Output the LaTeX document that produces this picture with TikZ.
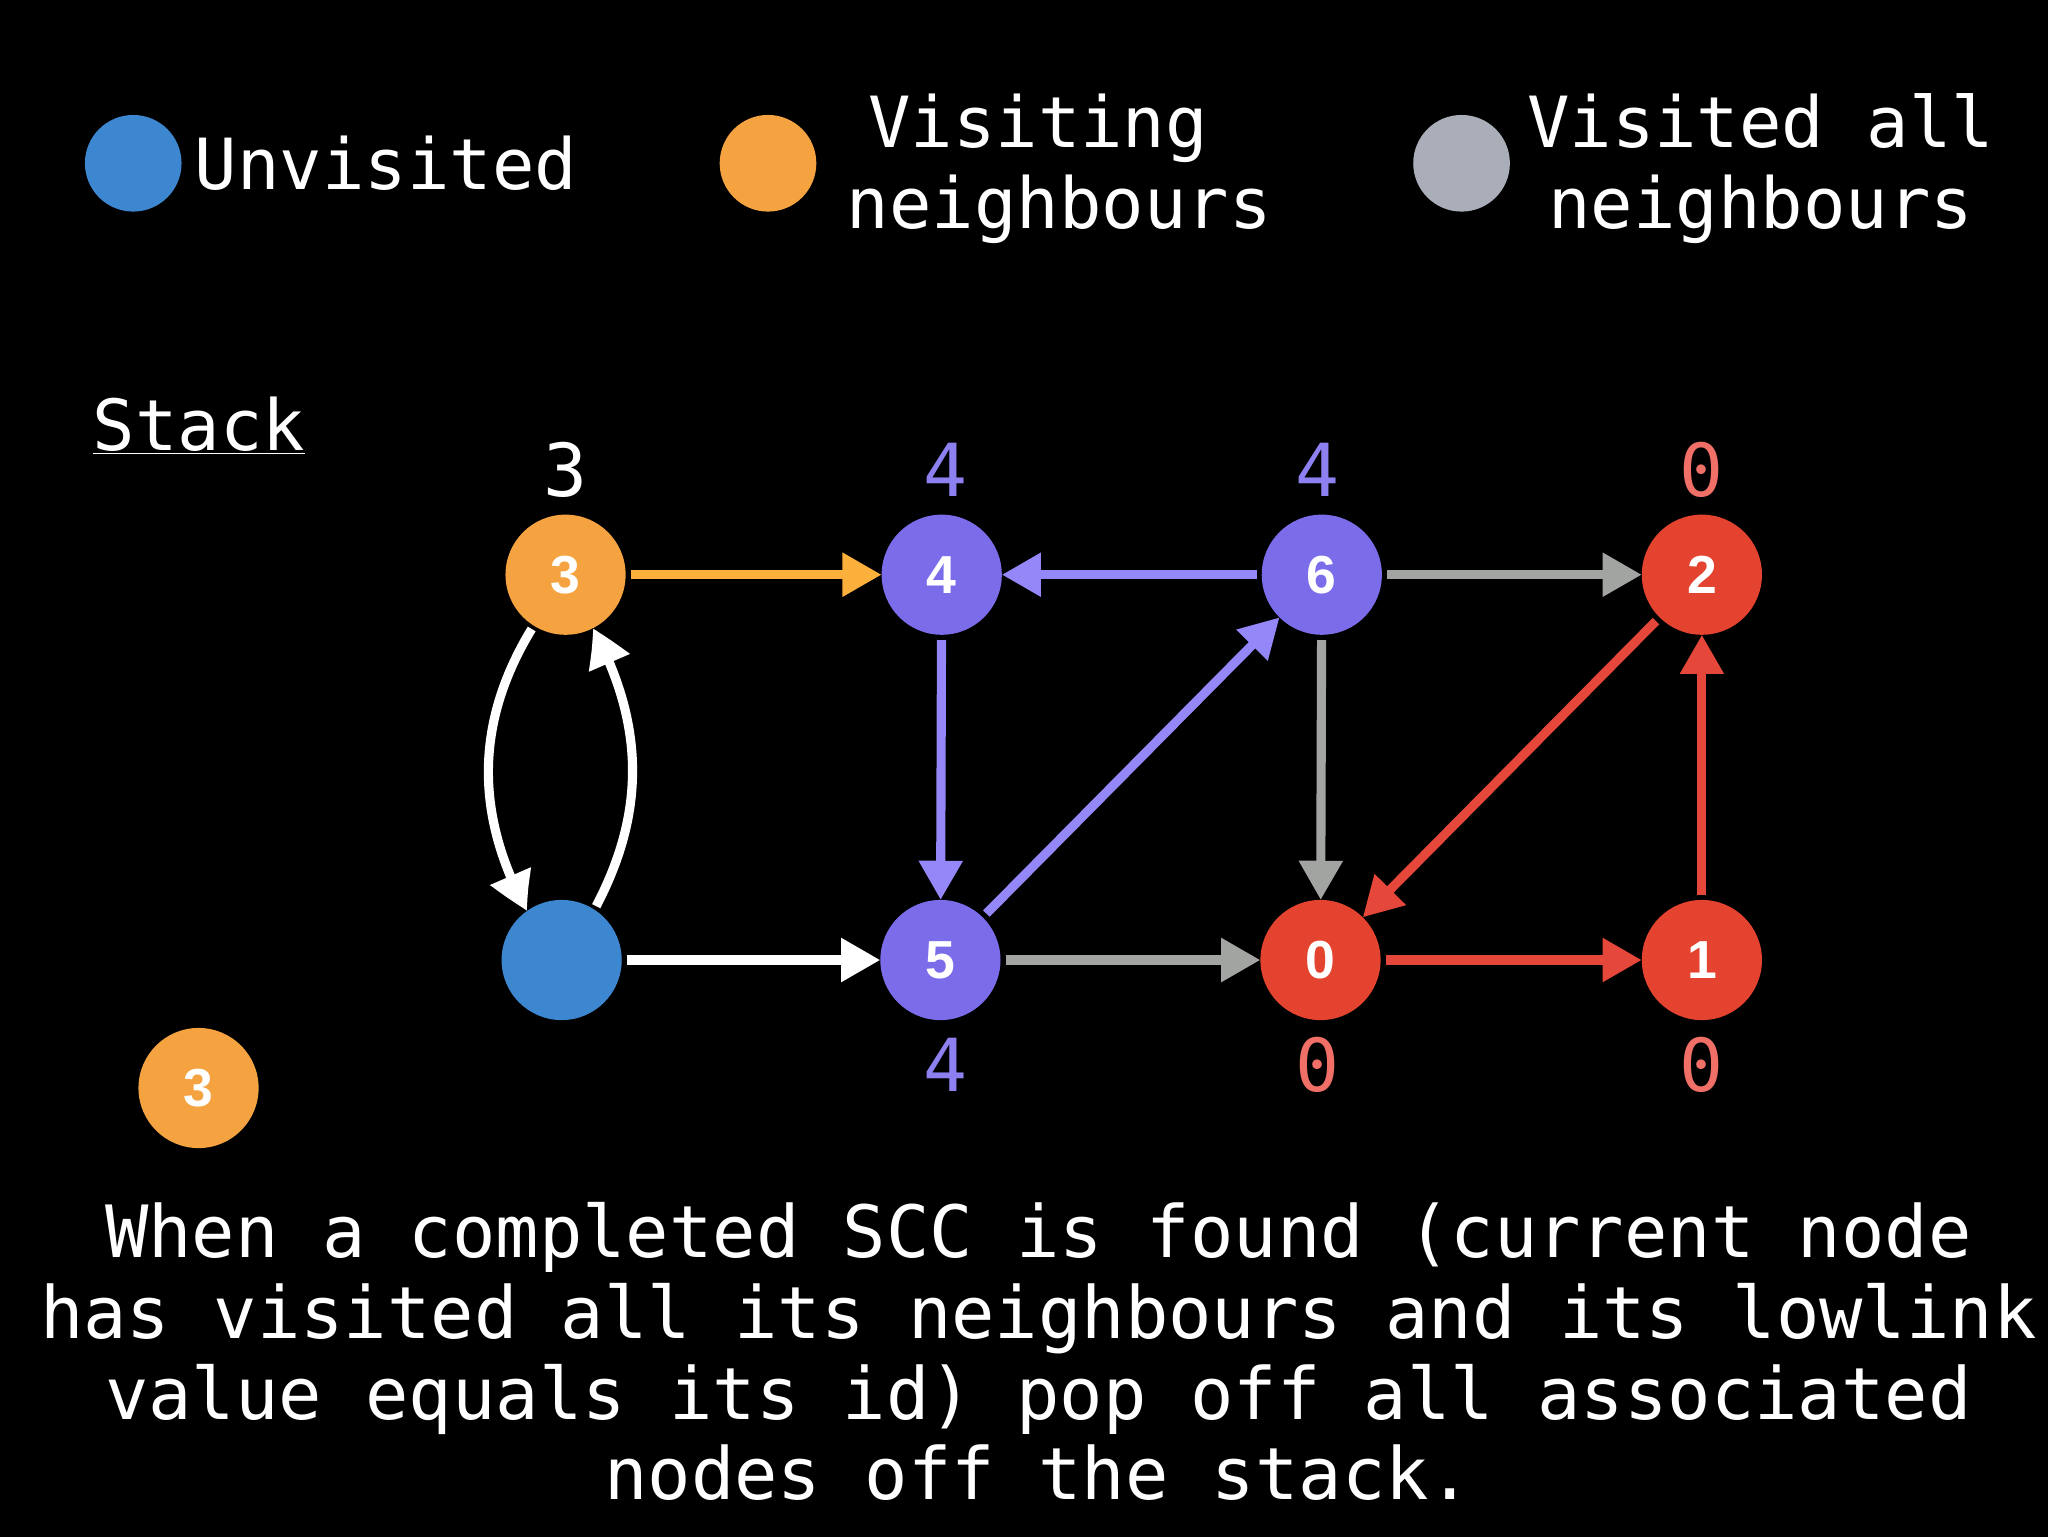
\documentclass[tikz,border=0pt]{standalone}
\usepackage{fontspec}
\setmainfont{DejaVu Sans Mono}
\newfontfamily\numfont{Liberation Sans}
\usetikzlibrary{arrows.meta,bending}
\definecolor{blueC}{HTML}{3D86D0}
\definecolor{orangeC}{HTML}{F4A340}
\definecolor{grayC}{HTML}{A9AEB9}
\definecolor{purpleN}{HTML}{7B6CE9}
\definecolor{purpleA}{HTML}{9487F8}
\definecolor{purpleL}{HTML}{8D80F0}
\definecolor{redN}{HTML}{E4432F}
\definecolor{redA}{HTML}{E5483A}
\definecolor{salmonL}{HTML}{F07068}
\definecolor{grayA}{HTML}{A2A4A2}
\definecolor{yellowA}{HTML}{FBB03B}
\tikzset{
  gnode/.style={circle,minimum size=92pt,inner sep=0pt,outer sep=0pt,text=white,font=\numfont\bfseries\fontsize{41}{43}\selectfont},
  legdot/.style={circle,minimum size=74pt,inner sep=0pt,outer sep=0pt},
  txt/.style={text=white,inner sep=0pt,font=\fontsize{54}{63}\selectfont},
  btxt/.style={text=white,inner sep=0pt,font=\fontsize{55.2}{63}\selectfont},
  numlab/.style={inner sep=0pt,font=\fontsize{56}{60}\selectfont},
  edge/.style={line width=7pt,-{Triangle[length=30pt,width=32pt]},shorten <=4pt},
  cedge/.style={line width=7pt,-{Triangle[length=30pt,width=32pt,bend]},shorten <=3pt},
}
\begin{document}
\begin{tikzpicture}[x=1pt,y=-1pt]
\useasboundingbox (0,0) rectangle (1568,1176);
\fill[black] (-6,-6) rectangle (1574,1182);
% legend
\node[legdot,fill=blueC] (l1) at (102,125) {};
\node[txt,anchor=base west] (t1) at (149,145) {Unvisited};
\node[legdot,fill=orangeC] (l2) at (588,125) {};
\node[txt,anchor=base] (t2a) at (811,113) {Visiting\hphantom{x}};
\node[txt,anchor=base] (t2b) at (811,175) {neighbours};
\node[legdot,fill=grayC] (l3) at (1119,125) {};
\node[txt,anchor=base] (t3a) at (1348,113) {Visited all};
\node[txt,anchor=base] (t3b) at (1348,175) {neighbours};
% stack
\node[txt,anchor=base west] (stk) at (71,345) {\underline{Stack}};
\node[gnode,fill=orangeC] (s3) at (152,833) {3};
% graph nodes
\node[gnode,fill=orangeC] (n3) at (433,440) {3};
\node[gnode,fill=blueC] (nb) at (430,735) {};
\node[gnode,fill=purpleN] (n4) at (721,440) {4};
\node[gnode,fill=purpleN] (n5) at (720,735) {5};
\node[gnode,fill=purpleN] (n6) at (1012,440) {6};
\node[gnode,fill=redN] (n0) at (1011,735) {0};
\node[gnode,fill=redN] (n2) at (1303,440) {2};
\node[gnode,fill=redN] (n1) at (1303,735) {1};
% low-link labels
\node[numlab,text=white] (a3) at (433,360) {3};
\node[numlab,text=purpleL] (a4) at (724,360) {4};
\node[numlab,text=purpleL] (a6) at (1009,360) {4};
\node[numlab,text=salmonL] (a2) at (1303,360) {0};
\node[numlab,text=purpleL] (a5) at (724,815) {4};
\node[numlab,text=salmonL] (a0) at (1009,815) {0};
\node[numlab,text=salmonL] (a1) at (1303,815) {0};
% edges
\draw[edge,yellowA] (n3) -- (n4);
\draw[edge,purpleA] (n6) -- (n4);
\draw[edge,grayA] (n6) -- (n2);
\draw[edge,purpleA] (n4) -- (n5);
\draw[edge,purpleA] (n5) -- (n6);
\draw[edge,grayA] (n6) -- (n0);
\draw[edge,redA] (n2) -- (n0);
\draw[edge,redA] (n1) -- (n2);
\draw[edge,white] (nb) -- (n5);
\draw[edge,grayA] (n5) -- (n0);
\draw[edge,redA] (n0) -- (n1);
\draw[cedge,white] (n3.238) to[bend right=30] (nb.125);
\draw[cedge,white] (nb.57) to[bend right=28] (n3.297);
% bottom text
\node[btxt,anchor=base] (b1) at (795,963) {When a completed SCC is found (current node};
\node[btxt,anchor=base] (b2) at (795,1025) {has visited all its neighbours and its lowlink};
\node[btxt,anchor=base] (b3) at (795,1087) {value equals its id) pop off all associated};
\node[btxt,anchor=base] (b4) at (795,1148) {nodes off the stack.};
\end{tikzpicture}
\end{document}
